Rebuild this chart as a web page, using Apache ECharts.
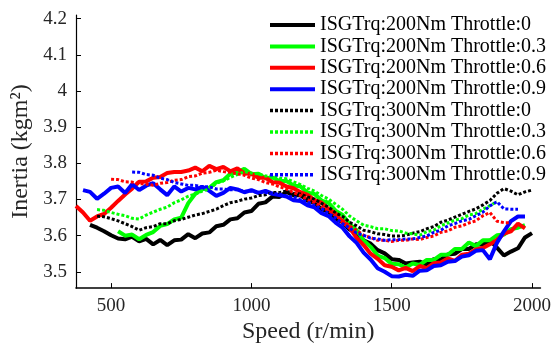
<!DOCTYPE html>
<html><head><meta charset="utf-8">
<script src="https://cdn.jsdelivr.net/npm/echarts@6/dist/echarts.min.js"></script>
<style>html,body{margin:0;padding:0;background:#fff}#c{width:554px;height:349px}</style>
</head><body><div id="c"></div>
<script>
// Speed grid (r/min)
const speed = [
  375,400,425,450,475,500,525,550,575,600,
  625,650,675,700,725,750,775,800,825,850,
  875,900,925,950,975,1000,1025,1050,1075,1100,
  1125,1150,1175,1200,1225,1250,1275,1300,1325,1350,
  1375,1400,1425,1450,1475,1500,1525,1550,1575,1600,
  1625,1650,1675,1700,1725,1750,1775,1800,1825,1850,
  1875,1900,1925,1950,1975,2000];

const xTicks = [500, 1000, 1500, 2000];
const yTicks = [3.5, 3.6, 3.7, 3.8, 3.9, 4.0, 4.1, 4.2];

const legendNames = [
  'ISGTrq:200Nm Throttle:0','ISGTrq:200Nm Throttle:0.3','ISGTrq:200Nm Throttle:0.6','ISGTrq:200Nm Throttle:0.9',
  'ISGTrq:300Nm Throttle:0','ISGTrq:300Nm Throttle:0.3','ISGTrq:300Nm Throttle:0.6','ISGTrq:300Nm Throttle:0.9'];

// ISGTrq 200Nm (solid)
const black200 = [
  null,null,3.630,3.622,3.612,3.601,3.592,3.590,3.597,3.584,
  3.591,3.576,3.588,3.574,3.587,3.589,3.604,3.593,3.606,3.609,
  3.626,3.630,3.645,3.648,3.664,3.668,3.688,3.692,3.708,3.707,
  3.721,3.712,3.712,3.697,3.691,3.673,3.667,3.647,3.637,3.617,
  3.607,3.587,3.578,3.560,3.551,3.535,3.533,3.523,3.526,3.528,
  3.520,3.535,3.534,3.548,3.550,3.563,3.563,3.576,3.575,3.587,
  3.567,3.545,3.556,3.565,3.595,3.607];
const green200 = [
  null,null,null,null,null,null,3.612,3.600,3.603,3.590,
  3.602,3.610,3.627,3.632,3.645,3.650,3.690,3.716,3.728,3.732,
  3.748,3.753,3.771,3.775,3.785,3.770,3.771,3.759,3.761,3.751,
  3.751,3.739,3.736,3.719,3.715,3.697,3.691,3.669,3.657,3.632,
  3.615,3.587,3.569,3.545,3.538,3.522,3.521,3.512,3.523,3.519,
  3.533,3.533,3.547,3.547,3.563,3.563,3.581,3.571,3.587,3.587,
  3.601,3.603,3.618,3.622,3.629,null];
const red200 = [
  3.682,3.664,3.641,3.653,3.660,3.677,3.696,3.714,3.730,3.749,
  3.750,3.760,3.762,3.773,3.776,3.776,3.780,3.788,3.778,3.793,
  3.784,3.790,3.778,3.786,3.772,3.771,3.760,3.760,3.748,3.746,
  3.736,3.731,3.720,3.713,3.698,3.691,3.674,3.661,3.638,3.622,
  3.594,3.574,3.550,3.536,3.518,3.514,3.504,3.511,3.502,3.516,
  3.510,3.524,3.526,3.537,3.530,3.547,3.550,3.562,3.566,3.576,
  3.588,3.606,3.612,3.633,3.620,null];
const blue200 = [
  null,3.726,3.721,3.702,3.716,3.732,3.736,3.718,3.742,3.726,
  3.738,3.745,3.728,3.712,3.736,3.722,3.732,3.728,3.735,3.724,
  3.710,3.718,3.732,3.728,3.720,3.726,3.718,3.724,3.716,3.712,
  3.708,3.698,3.696,3.684,3.678,3.662,3.654,3.636,3.622,3.598,
  3.580,3.553,3.534,3.510,3.500,3.488,3.487,3.492,3.489,3.503,
  3.504,3.516,3.518,3.528,3.530,3.542,3.546,3.558,3.560,3.535,
  3.580,3.612,3.640,3.653,3.653,null];

// ISGTrq 300Nm (dotted)
const black300 = [
  null,null,null,3.654,3.652,3.647,3.641,3.633,3.625,3.615,
  3.622,3.625,3.633,3.633,3.641,3.645,3.651,3.657,3.661,3.667,
  3.673,3.683,3.691,3.695,3.701,3.704,3.711,3.713,3.719,3.719,
  3.723,3.717,3.715,3.707,3.701,3.689,3.679,3.663,3.653,3.637,
  3.627,3.615,3.611,3.605,3.603,3.599,3.599,3.601,3.607,3.611,
  3.619,3.625,3.637,3.643,3.651,3.659,3.667,3.674,3.685,3.697,
  3.717,3.730,3.723,3.713,3.721,3.726];
const green300 = [
  null,null,null,3.672,3.670,3.664,3.659,3.655,3.648,3.646,
  3.657,3.665,3.673,3.679,3.691,3.699,3.709,3.715,3.723,3.729,
  3.745,3.751,3.761,3.769,3.777,3.773,3.771,3.765,3.765,3.759,
  3.757,3.749,3.741,3.731,3.723,3.711,3.701,3.687,3.673,3.654,
  3.641,3.629,3.625,3.619,3.619,3.614,3.613,3.607,3.605,3.601,
  3.611,3.615,3.627,3.635,3.643,3.647,3.657,3.661,3.673,3.683,
  3.694,null,null,null,null,null];
const red300 = [
  null,null,null,null,null,3.756,3.755,3.749,3.748,3.744,
  3.743,3.739,3.745,3.747,3.753,3.755,3.763,3.765,3.773,3.775,
  3.781,3.777,3.775,3.771,3.767,3.759,3.755,3.747,3.743,3.735,
  3.729,3.719,3.711,3.699,3.691,3.679,3.669,3.655,3.643,3.627,
  3.615,3.601,3.595,3.587,3.587,3.584,3.587,3.587,3.591,3.589,
  3.595,3.599,3.609,3.613,3.623,3.627,3.635,3.641,3.655,3.664,
  3.640,3.636,3.636,null,null,null];
const blue300 = [
  null,null,null,null,null,null,null,null,3.776,3.775,
  3.769,3.767,3.759,3.755,3.747,3.743,3.739,3.739,3.735,3.735,
  3.729,3.729,3.727,3.727,3.723,3.723,3.719,3.719,3.715,3.715,
  3.709,3.707,3.699,3.693,3.683,3.675,3.661,3.649,3.633,3.621,
  3.607,3.601,3.593,3.591,3.587,3.589,3.589,3.591,3.591,3.595,
  3.599,3.609,3.615,3.627,3.633,3.641,3.645,3.655,3.665,3.682,
  3.694,3.674,3.673,3.673,null,null];

const colors = ['#000000', '#00ff00', '#ff0000', '#0000ff'];
const solidSets = [black200, green200, red200, blue200];
const dottedSets = [black300, green300, red300, blue300];

const FONT = 'Liberation Serif';
const series = [];
solidSets.forEach((vals, i) => {
  series.push({
    name: legendNames[i], type: 'line', symbol: 'none', showSymbol: false,
    data: speed.map((s, j) => [s, vals[j]]),
    lineStyle: { color: colors[i], width: 4, type: 'solid' },
    itemStyle: { color: colors[i] }
  });
});
dottedSets.forEach((vals, i) => {
  series.push({
    name: legendNames[i + 4], type: 'line', symbol: 'none', showSymbol: false,
    data: speed.map((s, j) => [s, vals[j]]),
    lineStyle: { color: colors[i], width: 3, type: [3, 2] },
    itemStyle: { color: colors[i] }
  });
});

const legendData = legendNames.map((n, i) => ({
  name: n,
  lineStyle: i < 4 ? { width: 4, type: 'solid' } : { width: 3.5, type: [3, 2] }
}));

const chart = echarts.init(document.getElementById('c'), null, { renderer: 'canvas' });
chart.setOption({
  animation: false,
  backgroundColor: '#fff',
  grid: { left: 76, right: 11, top: 15, bottom: 53, containLabel: false },
  legend: {
    orient: 'vertical', left: 263, top: 10,
    itemWidth: 45, itemHeight: 14, itemGap: 1.4,
    data: legendData,
    itemStyle: { opacity: 0, borderWidth: 0 },
    textStyle: { fontFamily: FONT, fontSize: 20, color: '#000', lineHeight: 20 },
    selectedMode: false
  },
  xAxis: {
    type: 'value', min: 375, max: 2030,
    name: 'Speed (r/min)', nameLocation: 'middle', nameGap: 27,
    nameTextStyle: { fontFamily: FONT, fontSize: 24, color: '#262626' },
    axisLine: { show: true, onZero: false, lineStyle: { color: '#000', width: 1.6 } },
    axisTick: { show: true, inside: true, length: 5, customValues: xTicks, lineStyle: { color: '#000' } },
    axisLabel: { customValues: xTicks, fontFamily: FONT, fontSize: 19, color: '#262626', margin: 8,
      formatter: v => String(Math.round(v)) },
    splitLine: { show: false }
  },
  yAxis: {
    type: 'value', min: 3.455, max: 4.21,
    name: 'Inertia (kgm²)', nameLocation: 'middle', nameGap: 38,
    nameTextStyle: { fontFamily: FONT, fontSize: 24, color: '#262626' },
    axisLine: { show: true, onZero: false, lineStyle: { color: '#000', width: 1.2 } },
    axisTick: { show: true, inside: true, length: 5, customValues: yTicks, lineStyle: { color: '#000' } },
    axisLabel: { customValues: yTicks, fontFamily: FONT, fontSize: 19, color: '#262626', margin: 9,
      formatter: v => String(+(+v).toFixed(1)) },
    splitLine: { show: false }
  },
  series: series
});
</script>
</body></html>
